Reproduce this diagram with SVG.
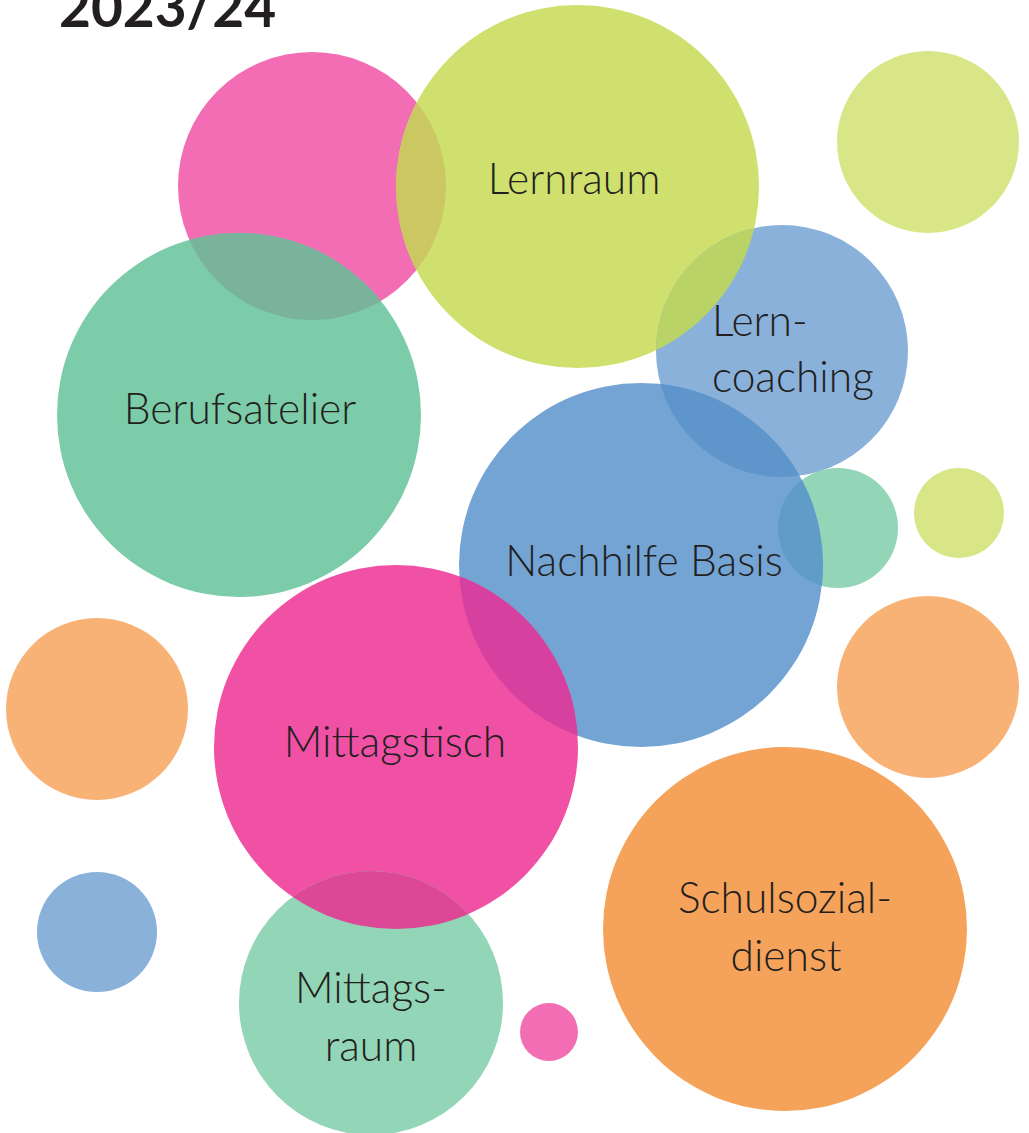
<svg xmlns="http://www.w3.org/2000/svg" width="1029" height="1133" viewBox="0 0 1029 1133">
<style>
.lbl{font-family:Lato,"Open Sans","Liberation Sans",sans-serif;font-weight:300;font-size:42.5px;fill:#231f20;}
.mid{text-anchor:middle;}
.title{font-family:Lato,"Liberation Sans",sans-serif;font-weight:700;font-size:55px;fill:#231f20;}
</style>
<defs>
<clipPath id="cl-pink"><circle cx="312" cy="186" r="134"/></clipPath>
<clipPath id="cl-lern"><circle cx="577.5" cy="186.5" r="181.5"/></clipPath>
<clipPath id="cl-coach"><circle cx="782" cy="351" r="126"/></clipPath>
<clipPath id="cl-sg"><circle cx="838" cy="528" r="60"/></clipPath>
<clipPath id="cl-nach"><circle cx="641" cy="565" r="182"/></clipPath>
<clipPath id="cl-mt"><circle cx="396" cy="747" r="182"/></clipPath>
</defs>
<rect width="1029" height="1133" fill="#ffffff"/>
<text class="title" x="59" y="27">2023/24</text>

<g id="bubble-pink-top"><circle cx="312" cy="186" r="134" fill="#f26db3"/></g>
<g id="node-lernraum">
<circle cx="577.5" cy="186.5" r="181.5" fill="#d0e06e"/>
<circle cx="577.5" cy="186.5" r="181.5" fill="#cbc763" clip-path="url(#cl-pink)"/>
<text class="lbl mid" x="574" y="194">Lernraum</text>
</g>
<g id="bubble-lightgreen-top"><circle cx="928" cy="142" r="91" fill="#d8e688"/></g>
<g id="node-berufsatelier">
<circle cx="239" cy="415" r="182" fill="#7dcca9"/>
<circle cx="239" cy="415" r="182" fill="#7ab39b" clip-path="url(#cl-pink)"/>
<text class="lbl mid" x="240" y="424">Berufsatelier</text>
</g>
<g id="node-lerncoaching">
<circle cx="782" cy="351" r="126" fill="#89b1da"/>
<circle cx="782" cy="351" r="126" fill="#bad367" clip-path="url(#cl-lern)"/>
<text class="lbl" x="712" y="336">Lern-</text>
<text class="lbl" x="712" y="392">coaching</text>
</g>
<g id="bubble-green-small"><circle cx="838" cy="528" r="60" fill="#93d5b7"/></g>
<g id="bubble-lightgreen-small"><circle cx="959" cy="513" r="45" fill="#d8e688"/></g>
<g id="node-nachhilfe">
<circle cx="641" cy="565" r="182" fill="#73a4d4"/>
<circle cx="641" cy="565" r="182" fill="#5e96cc" clip-path="url(#cl-coach)"/>
<circle cx="641" cy="565" r="182" fill="#5f9dc8" clip-path="url(#cl-sg)"/>
<text class="lbl mid" x="644" y="576">Nachhilfe Basis</text>
</g>
<g id="bubble-orange-left"><circle cx="97" cy="709" r="91" fill="#f8b275"/></g>
<g id="bubble-orange-right"><circle cx="928" cy="687" r="91" fill="#f8b275"/></g>
<g id="node-mittagstisch">
<circle cx="396" cy="747" r="182" fill="#f051a5"/>
<circle cx="396" cy="747" r="182" fill="#d6409f" clip-path="url(#cl-nach)"/>
<text class="lbl mid" x="395" y="757">Mittagstisch</text>
</g>
<g id="bubble-blue-left"><circle cx="97" cy="932" r="60" fill="#8ab1da"/></g>
<g id="node-mittagsraum">
<circle cx="371" cy="1003" r="132" fill="#93d5b7"/>
<circle cx="371" cy="1003" r="132" fill="#dc4896" clip-path="url(#cl-mt)"/>
<text class="lbl mid" x="371" y="1003">Mittags-</text>
<text class="lbl mid" x="371" y="1061">raum</text>
</g>
<g id="bubble-pink-tiny"><circle cx="549" cy="1032" r="29" fill="#f26db3"/></g>
<g id="node-schulsozialdienst">
<circle cx="785" cy="929" r="182" fill="#f5a35b"/>
<text class="lbl mid" x="785" y="913">Schulsozial-</text>
<text class="lbl mid" x="786" y="971">dienst</text>
</g>
<g id="connectors"></g>
</svg>
